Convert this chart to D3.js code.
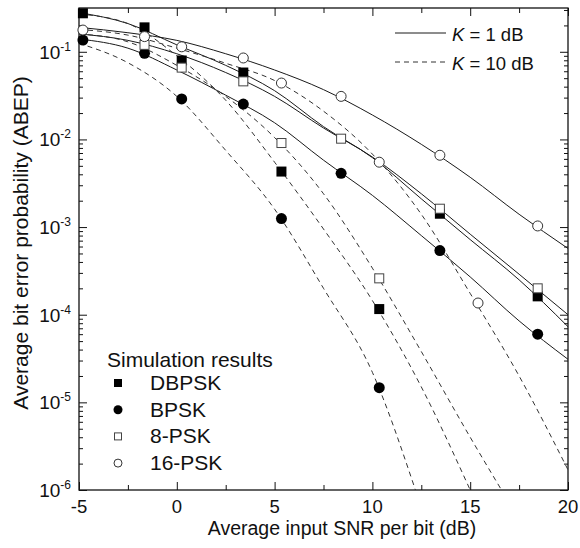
<!DOCTYPE html>
<html><head><meta charset="utf-8">
<script src="https://cdn.jsdelivr.net/npm/d3@7"></script>
<style>body{margin:0;background:#fff;} svg{display:block;font-family:"Liberation Sans",Arial,Helvetica,sans-serif;}</style>
</head><body><svg id="chart" width="580" height="548"></svg>
<script>
// ---- data ----
const snrGrid = [-5, -2.5, 0, 2.5, 5, 7.5, 10, 12.5, 15, 17.5, 20];
// K = 1 dB (solid)
const k1DBPSK = [0.28, 0.21, 0.12, 0.07, 0.036, 0.014, 0.0062, 0.0021, 7.2e-4, 2.5e-4, 7.3e-5];
const k1BPSK  = [0.14, 0.11, 0.062, 0.032, 0.0155, 0.0058, 0.0023, 8.0e-4, 2.7e-4, 8.5e-5, 3.1e-5];
const k1PSK8  = [0.16, 0.135, 0.095, 0.058, 0.031, 0.0135, 0.0063, 0.0024, 8.3e-4, 2.9e-4, 1.0e-4];
const k1PSK16 = [0.19, 0.165, 0.135, 0.095, 0.062, 0.037, 0.019, 0.0088, 0.0037, 0.0014, 5.7e-4];
// K = 10 dB (dashed)
const k10BPSKsnr  = [-5, -2.5, 0, 2.5, 5, 7.5, 10, 12.2];
const k10BPSK     = [0.125, 0.075, 0.031, 0.0075, 0.0016, 2.0e-4, 2.2e-5, 1e-6];
const k10DBPSKsnr = [-5, -2.5, 0, 2.5, 5, 7.5, 10, 12.5, 15];
const k10DBPSK    = [0.27, 0.21, 0.09, 0.028, 0.0055, 9.5e-4, 1.45e-4, 1.5e-5, 1e-6];
const k10PSK8snr  = [-5, -2.5, 0, 2.5, 5, 7.5, 10, 12.5, 15, 16.6];
const k10PSK8     = [0.16, 0.13, 0.07, 0.031, 0.0105, 0.0024, 3.4e-4, 3.8e-5, 4.0e-6, 1e-6];
const k10PSK16snr = [-5, -2.5, 0, 2.5, 5, 7.5, 10, 12.5, 15, 17.5, 20];
const k10PSK16    = [0.18, 0.155, 0.11, 0.074, 0.047, 0.021, 0.0068, 0.0014, 1.75e-4, 2.0e-5, 1.7e-6];
// simulation markers
const simSNR     = [-4.8, -1.65, 0.25, 3.4, 5.35, 8.4, 10.35, 13.45, 15.4, 18.45];
const simDBPSK   = [0.275, 0.19, 0.0796, 0.058, 0.0043, null, 1.16e-4, 0.00142, null, 1.62e-4];
const simBPSK    = [0.136, 0.096, 0.029, 0.0253, 0.00125, 0.0041, 1.47e-5, 5.4e-4, null, 6.0e-5];
const simPSK8    = [null, 0.12, 0.066, 0.046, 0.0091, 0.0102, 2.6e-4, 0.00162, null, 2.0e-4];
const simPSK16   = [0.177, 0.149, 0.114, 0.085, 0.044, 0.031, 0.0055, 0.0066, 1.36e-4, 0.00103];
// axes
const xMajor = [-5, 0, 5, 10, 15, 20];
const xMinor = [-2.5, 2.5, 7.5, 12.5, 17.5];
const yDecades = [1e-6, 1e-5, 1e-4, 1e-3, 1e-2, 1e-1];
const yDecadeExp = ["-6", "-5", "-4", "-3", "-2", "-1"];
const legendNames = ["DBPSK", "BPSK", "8-PSK", "16-PSK"];

// ---- drawing ----
const svg = d3.select("#chart");
const L = 79, R = 568, T = 8, B = 490;
const x = d3.scaleLinear().domain([-5, 20]).range([L, R]);
const y = d3.scaleLog().domain([1e-6, 0.316]).range([B, T]);
const yMinor = y.ticks().filter(v => !yDecades.some(d => Math.abs(v / d - 1) < 1e-6));

svg.append("defs").append("clipPath").attr("id", "clip")
  .append("rect").attr("x", L).attr("y", T).attr("width", R - L).attr("height", B - T);

function axisG(axis, tx, ty) {
  const g = svg.append("g").attr("transform", `translate(${tx},${ty})`).call(axis);
  g.select(".domain").remove();
  g.selectAll("line").attr("stroke", "#111").attr("stroke-width", 1);
  return g;
}
axisG(d3.axisBottom(x).tickValues(xMajor).tickSize(-8).tickFormat(""), 0, B);
axisG(d3.axisBottom(x).tickValues(xMinor).tickSize(-5).tickFormat(""), 0, B);
axisG(d3.axisTop(x).tickValues(xMajor).tickSize(-8).tickFormat(""), 0, T);
axisG(d3.axisTop(x).tickValues(xMinor).tickSize(-5).tickFormat(""), 0, T);
axisG(d3.axisLeft(y).tickValues(yDecades).tickSize(-8).tickFormat(""), L, 0);
axisG(d3.axisLeft(y).tickValues(yMinor).tickSize(-4).tickFormat(""), L, 0);
axisG(d3.axisRight(y).tickValues(yDecades).tickSize(-8).tickFormat(""), R, 0);
axisG(d3.axisRight(y).tickValues(yMinor).tickSize(-4).tickFormat(""), R, 0);

svg.append("rect").attr("x", L).attr("y", T).attr("width", R - L).attr("height", B - T)
  .attr("fill", "none").attr("stroke", "#111").attr("stroke-width", 1.3);

// tick labels
svg.append("g").selectAll("text").data(xMajor).join("text")
  .attr("x", d => x(d)).attr("y", 513).attr("text-anchor", "middle")
  .attr("font-size", 18.5).attr("fill", "#111").text(d => d);
const yl = svg.append("g").selectAll("text").data(yDecades).join("text")
  .attr("x", 71).attr("y", d => y(d) + 7).attr("text-anchor", "end")
  .attr("font-size", 19).attr("fill", "#111");
yl.append("tspan").text("10");
yl.append("tspan").attr("dy", -8).attr("font-size", 12).text((d, i) => yDecadeExp[i]);

// axis titles
svg.append("text").attr("x", 342).attr("y", 535).attr("text-anchor", "middle")
  .attr("font-size", 19.5).attr("fill", "#111").text("Average input SNR per bit (dB)");
svg.append("text").attr("transform", "translate(28,243) rotate(-90)").attr("text-anchor", "middle")
  .attr("font-size", 21).attr("fill", "#111").text("Average bit error probability (ABEP)");

// curves
const plot = svg.append("g").attr("clip-path", "url(#clip)");
const line = d3.line().x(d => x(d[0])).y(d => y(d[1])).curve(d3.curveMonotoneX);
const solid = [k1DBPSK, k1BPSK, k1PSK8, k1PSK16];
solid.forEach(s => plot.append("path").datum(snrGrid.map((v, i) => [v, s[i]]))
  .attr("d", line).attr("fill", "none").attr("stroke", "#1a1a1a").attr("stroke-width", 1));
const dashed = [[k10DBPSKsnr, k10DBPSK], [k10BPSKsnr, k10BPSK], [k10PSK8snr, k10PSK8], [k10PSK16snr, k10PSK16]];
dashed.forEach(([xs, s]) => plot.append("path").datum(xs.map((v, i) => [v, s[i]]))
  .attr("d", line).attr("fill", "none").attr("stroke", "#333").attr("stroke-width", 1)
  .attr("stroke-dasharray", "5,4"));

// markers
function drawMarker(g, type, cx, cy, big) {
  const s = big ? 10 : 8, r = big ? 5.5 : 4.5;
  if (type === 0) g.append("rect").attr("x", cx - s / 2).attr("y", cy - s / 2).attr("width", s).attr("height", s).attr("fill", "#000");
  if (type === 1) g.append("circle").attr("cx", cx).attr("cy", cy).attr("r", r).attr("fill", "#000");
  if (type === 2) g.append("rect").attr("x", cx - s / 2 + 0.5).attr("y", cy - s / 2 + 0.5).attr("width", s - 1).attr("height", s - 1).attr("fill", "#fff").attr("stroke", "#444").attr("stroke-width", 1);
  if (type === 3) g.append("circle").attr("cx", cx).attr("cy", cy).attr("r", r - 0.5).attr("fill", "#fff").attr("stroke", "#333").attr("stroke-width", 1);
}
const sims = [simDBPSK, simBPSK, simPSK8, simPSK16];
const mg = svg.append("g");
sims.forEach((s, t) => simSNR.forEach((v, i) => { if (s[i] != null) drawMarker(mg, t, x(v), y(s[i]), true); }));

// legend: simulation
const lg = svg.append("g").attr("font-size", 21).attr("fill", "#111");
lg.append("text").attr("x", 107).attr("y", 367).text("Simulation results");
legendNames.forEach((n, i) => {
  const by = 390 + i * 26.7;
  drawMarker(lg, i, 118, by - 7, false);
  lg.append("text").attr("x", 150).attr("y", by).text(n);
});

// legend: K
const kg = svg.append("g").attr("font-size", 18.5).attr("fill", "#111");
kg.append("line").attr("x1", 395).attr("x2", 446).attr("y1", 33).attr("y2", 33).attr("stroke", "#1a1a1a").attr("stroke-width", 1);
kg.append("line").attr("x1", 395).attr("x2", 446).attr("y1", 62).attr("y2", 62).attr("stroke", "#333").attr("stroke-width", 1).attr("stroke-dasharray", "5,4");
const t1 = kg.append("text").attr("x", 452).attr("y", 41);
t1.append("tspan").attr("font-style", "italic").text("K");
t1.append("tspan").text(" = 1 dB");
const t2 = kg.append("text").attr("x", 452).attr("y", 70);
t2.append("tspan").attr("font-style", "italic").text("K");
t2.append("tspan").text(" = 10 dB");
</script></body></html>
